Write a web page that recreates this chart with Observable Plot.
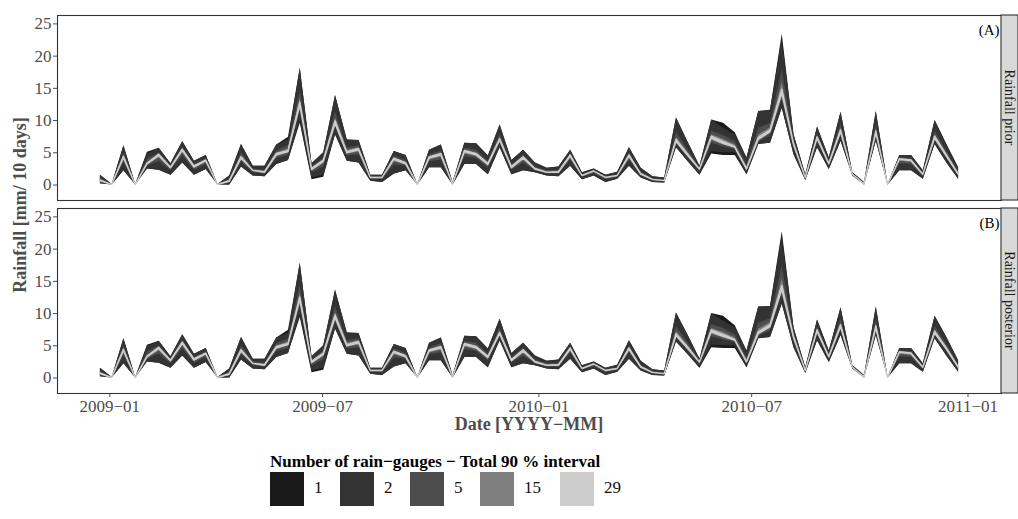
<!DOCTYPE html>
<html><head><meta charset="utf-8">
<script src="https://cdn.jsdelivr.net/npm/d3@7"></script>
<script src="https://cdn.jsdelivr.net/npm/@observablehq/plot@0.6"></script>
<style>
body{margin:0;background:#fff;font-family:"Liberation Serif","Times New Roman",serif;}
#wrap{position:relative;width:1018px;height:519px;overflow:hidden;}
#legtitle{position:absolute;left:270px;top:452px;font-weight:bold;font-size:17px;color:#000;white-space:nowrap;line-height:20px;}
.sw{position:absolute;width:34px;height:34px;top:472px;}
.lab{position:absolute;top:478px;font-size:17px;color:#111;line-height:20px;}
</style></head><body><div id="wrap"></div>
<script>
const dates = ["2008-12-24","2009-01-03","2009-01-13","2009-01-23","2009-02-02","2009-02-12","2009-02-22","2009-03-04","2009-03-14","2009-03-24",
"2009-04-03","2009-04-13","2009-04-23","2009-05-03","2009-05-13","2009-05-23","2009-06-02","2009-06-12","2009-06-22","2009-07-02",
"2009-07-12","2009-07-22","2009-08-01","2009-08-11","2009-08-21","2009-08-31","2009-09-10","2009-09-20","2009-09-30","2009-10-10",
"2009-10-20","2009-10-30","2009-11-09","2009-11-19","2009-11-29","2009-12-09","2009-12-19","2009-12-29","2010-01-08","2010-01-18",
"2010-01-28","2010-02-07","2010-02-17","2010-02-27","2010-03-09","2010-03-19","2010-03-29","2010-04-08","2010-04-18","2010-04-28",
"2010-05-08","2010-05-18","2010-05-28","2010-06-07","2010-06-17","2010-06-27","2010-07-07","2010-07-17","2010-07-27","2010-08-06",
"2010-08-16","2010-08-26","2010-09-05","2010-09-15","2010-09-25","2010-10-05","2010-10-15","2010-10-25","2010-11-04","2010-11-14",
"2010-11-24","2010-12-04","2010-12-14","2010-12-24"];
const gauges = ["1","2","5","15","29"];
const grays = ["#1a1a1a","#333333","#4d4d4d","#7f7f7f","#cccccc"];
const panels = ["Rainfall prior","Rainfall posterior"];
const panelTags = ["(A)","(B)"];
const xTicks = ["2009-01-01","2009-07-01","2010-01-01","2010-07-01","2011-01-01"];
const yTicks = [0,5,10,15,20,25];

// Panel A (prior): 90% interval bounds per number of rain-gauges
const A_hi1 = [1.5,0.1,6.1,0.1,5.1,5.7,3.3,6.7,3.7,4.6, 0.1,1.4,6.3,2.9,2.9,6.2,7.4,18.1,3.3,5.0, 13.9,7.0,6.9,1.5,1.5,5.2,4.6,0.1,5.4,6.2, 0.4,6.5,6.4,4.5,9.3,3.8,5.4,3.4,2.6,2.8, 5.4,1.9,2.5,1.5,2.0,5.8,2.6,1.3,1.1,10.4, 6.6,2.9,10.1,9.6,8.1,4.2,11.4,11.6,23.4,7.8, 1.6,9.0,4.2,11.3,1.9,0.4,11.4,0.1,4.6,4.6, 2.2,10.0,6.3,2.7];
const A_lo1 = [0.2,0,2.2,0,2.5,2.3,1.5,3.4,1.5,2.4, 0,0,2.8,1.4,1.3,3.2,3.8,9.6,0.8,1.2, 7.8,3.7,3.4,0.6,0.4,1.7,2.2,0,2.7,2.7, 0,3.2,3.2,1.6,5.8,1.6,2.2,1.9,1.4,1.3, 2.9,0.8,1.4,0.4,0.9,2.9,1.1,0.4,0.3,5.8, 3.6,1.5,4.8,4.6,4.6,1.6,6.3,6.5,11.9,4.7, 0.7,5.8,2.4,6.8,1.4,0,6.8,0,2.2,2.2, 0.9,6.3,3.4,0.9];
const A_hi2 = [1.5,0.1,6.1,0.1,4.8,5.7,3.3,6.7,3.7,4.6, 0.1,1.4,6.3,2.9,2.9,6.2,7.0,18.1,3.3,5.0, 13.9,7.0,6.9,1.5,1.5,5.2,4.6,0.1,5.4,6.2, 0.4,6.5,6.4,4.5,9.3,3.8,5.4,3.4,2.6,2.8, 5.4,1.9,2.5,1.5,2.0,5.8,2.6,1.3,1.1,10.4, 6.6,2.9,10.1,8.8,7.8,4.2,11.4,11.6,22.6,7.8, 1.6,9.0,4.2,11.3,1.9,0.4,11.4,0.1,4.6,4.6, 2.2,10.0,6.3,2.7];
const A_lo2 = [0.2,0,2.2,0,2.5,2.3,1.5,3.4,1.5,2.4, 0,0,2.8,1.4,1.3,3.2,3.8,9.9,1.1,1.5, 7.8,3.7,3.4,0.6,0.4,1.7,2.2,0,2.7,2.7, 0,3.2,3.2,1.6,5.8,1.6,2.2,1.9,1.4,1.3, 2.9,0.8,1.4,0.4,0.9,2.9,1.1,0.4,0.3,5.8, 3.6,1.5,5.2,5.0,5.0,1.6,6.3,6.5,11.9,4.7, 0.7,5.8,2.4,6.8,1.4,0,6.8,0,2.2,2.2, 0.9,6.3,3.4,0.9];
const A_hi5 = [1.0,0.1,5.0,0.1,4.0,5.0,2.9,5.9,3.2,4.1, 0.1,0.9,5.0,2.5,2.3,5.3,6.1,14.7,2.8,4.2, 11.3,5.8,6.1,1.3,1.3,4.5,3.8,0.1,4.7,5.3, 0.2,5.7,5.4,3.7,7.9,3.1,4.7,2.8,2.2,2.3, 4.9,1.6,2.3,1.3,1.6,5.0,2.0,1.0,0.8,8.2, 5.4,2.6,8.4,7.7,6.7,3.1,8.8,9.6,17.9,6.9, 1.3,8.0,3.6,9.5,1.7,0.2,9.4,0.1,4.2,4.1, 1.8,8.4,5.2,2.0];
const A_lo5 = [0.4,0,3.5,0,2.9,3.7,2.2,4.6,2.3,3.2, 0,0.3,3.6,1.9,1.7,4.1,4.6,11.5,1.9,2.8, 8.9,4.5,4.7,0.9,0.8,3.1,2.9,0,3.6,3.9, 0.1,4.4,4.1,2.6,6.5,2.3,3.4,2.2,1.7,1.7, 3.9,1.2,1.8,0.8,1.2,3.9,1.4,0.6,0.5,6.4, 4.2,2.0,6.5,5.9,5.5,2.1,6.7,7.6,13.3,5.7, 1.0,6.7,2.9,7.7,1.5,0.1,7.6,0,3.3,3.2, 1.3,6.9,4.1,1.3];
const A_hi15 = [0.8,0,4.6,0,3.5,4.8,2.8,5.6,3.0,3.9, 0,0.7,4.6,2.3,2.1,5.0,5.6,13.5,2.6,3.9, 10.4,5.4,5.8,1.2,1.2,4.2,3.5,0,4.4,5.0, 0.2,5.4,5.0,3.4,7.4,2.9,4.4,2.6,2.0,2.1, 4.7,1.5,2.2,1.2,1.5,4.7,1.8,0.9,0.7,7.4, 5.0,2.5,7.8,7.1,6.2,2.7,7.8,8.9,15.9,6.6, 1.2,7.6,3.4,8.8,1.7,0.2,8.7,0,4.1,3.9, 1.7,7.8,4.8,1.8];
const A_lo15 = [0.5,0,3.9,0,3.1,4.2,2.5,5.0,2.6,3.5, 0,0.4,3.9,2.1,1.8,4.4,5.0,12.0,2.2,3.3, 9.3,4.8,5.1,1.0,1.0,3.6,3.1,0,3.9,4.3, 0.1,4.8,4.4,2.9,6.8,2.5,3.8,2.3,1.8,1.8, 4.2,1.3,2.0,1.0,1.3,4.2,1.5,0.7,0.5,6.6, 4.4,2.2,6.9,6.2,5.7,2.3,6.9,8.0,13.9,6.0, 1.0,7.0,3.1,8.0,1.6,0.1,7.9,0,3.7,3.5, 1.5,7.1,4.3,1.5];
const A_hi29 = [0.7,0,4.4,0,3.3,4.7,2.7,5.5,2.9,3.8, 0,0.6,4.3,2.2,2.0,4.8,5.3,12.8,2.5,3.8, 9.9,5.1,5.6,1.1,1.1,4.1,3.4,0,4.3,4.8, 0.1,5.3,4.8,3.3,7.1,2.8,4.3,2.5,1.9,2.0, 4.6,1.4,2.1,1.1,1.4,4.6,1.7,0.8,0.6,7.0, 4.7,2.4,7.5,6.7,5.9,2.5,7.3,8.5,14.8,6.4, 1.1,7.4,3.3,8.5,1.6,0.1,8.3,0,4.0,3.8, 1.6,7.5,4.6,1.7];
const A_lo29 = [0.6,0,4.2,0,3.2,4.5,2.6,5.3,2.7,3.7, 0,0.5,4.1,2.2,1.9,4.6,5.1,12.3,2.3,3.6, 9.5,4.9,5.4,1.1,1.1,3.9,3.2,0,4.1,4.6, 0.1,5.1,4.6,3.1,6.9,2.6,4.1,2.4,1.9,1.9, 4.4,1.4,2.1,1.1,1.4,4.4,1.6,0.8,0.6,6.7, 4.5,2.4,7.2,6.4,5.8,2.4,7.0,8.2,14.2,6.2, 1.1,7.2,3.2,8.2,1.6,0.1,8.0,0,3.9,3.7, 1.6,7.2,4.4,1.6];

// Panel B (posterior)
const B_hi1 = [1.5,0.1,6.1,0.1,5.1,5.7,3.3,6.7,3.7,4.6, 0.1,1.4,6.3,2.9,2.9,6.2,7.4,17.8,3.3,5.0, 13.6,7.0,6.9,1.5,1.5,5.2,4.6,0.1,5.4,6.2, 0.4,6.5,6.4,4.5,9.1,3.8,5.4,3.4,2.6,2.8, 5.4,1.9,2.5,1.5,2.0,5.8,2.6,1.3,1.1,10.1, 6.6,2.9,10.0,9.6,8.1,4.2,11.0,11.1,22.7,7.8, 1.6,9.0,4.2,10.9,1.9,0.4,11.0,0.1,4.6,4.6, 2.2,9.6,6.3,2.7];
const B_lo1 = [0.2,0,2.2,0,2.5,2.3,1.5,3.4,1.5,2.4, 0,0,2.8,1.4,1.3,3.2,3.8,9.4,0.8,1.2, 7.6,3.7,3.4,0.6,0.4,1.7,2.2,0,2.7,2.7, 0,3.2,3.2,1.6,5.8,1.6,2.2,1.9,1.4,1.3, 2.9,0.8,1.4,0.4,0.9,2.9,1.1,0.4,0.3,5.6, 3.6,1.5,4.7,4.6,4.6,1.6,6.1,6.3,11.5,4.7, 0.7,5.8,2.4,6.6,1.4,0,6.6,0,2.2,2.2, 0.9,6.1,3.4,0.9];
const B_hi2 = [1.5,0.1,6.1,0.1,4.8,5.7,3.3,6.7,3.7,4.6, 0.1,1.4,6.3,2.9,2.9,6.2,7.0,17.8,3.3,5.0, 13.6,7.0,6.9,1.5,1.5,5.2,4.6,0.1,5.4,6.2, 0.4,6.5,6.4,4.5,9.1,3.8,5.4,3.4,2.6,2.8, 5.4,1.9,2.5,1.5,2.0,5.8,2.6,1.3,1.1,10.1, 6.6,2.9,10.0,8.8,7.8,4.2,11.0,11.1,21.9,7.8, 1.6,9.0,4.2,10.9,1.9,0.4,11.0,0.1,4.6,4.6, 2.2,9.6,6.3,2.7];
const B_lo2 = [0.2,0,2.2,0,2.5,2.3,1.5,3.4,1.5,2.4, 0,0,2.8,1.4,1.3,3.2,3.8,9.7,1.1,1.5, 7.6,3.7,3.4,0.6,0.4,1.7,2.2,0,2.7,2.7, 0,3.2,3.2,1.6,5.8,1.6,2.2,1.9,1.4,1.3, 2.9,0.8,1.4,0.4,0.9,2.9,1.1,0.4,0.3,5.6, 3.6,1.5,5.1,5.0,5.0,1.6,6.1,6.3,11.5,4.7, 0.7,5.8,2.4,6.6,1.4,0,6.6,0,2.2,2.2, 0.9,6.1,3.4,0.9];
const B_hi5 = [1.0,0.1,5.0,0.1,4.0,5.0,2.9,5.9,3.2,4.1, 0.1,0.9,5.0,2.5,2.3,5.3,6.1,14.4,2.8,4.2, 11.1,5.8,6.1,1.3,1.3,4.5,3.8,0.1,4.7,5.3, 0.2,5.7,5.4,3.7,7.8,3.1,4.7,2.8,2.2,2.3, 4.9,1.6,2.3,1.3,1.6,5.0,2.0,1.0,0.8,8.0, 5.4,2.6,8.3,7.7,6.7,3.1,8.5,9.2,17.4,6.9, 1.3,8.0,3.6,9.2,1.7,0.2,9.1,0.1,4.2,4.1, 1.8,8.0,5.2,2.0];
const B_lo5 = [0.4,0,3.5,0,2.9,3.7,2.2,4.6,2.3,3.2, 0,0.3,3.6,1.9,1.7,4.1,4.6,11.2,1.9,2.8, 8.7,4.5,4.7,0.9,0.8,3.1,2.9,0,3.6,3.9, 0.1,4.4,4.1,2.6,6.5,2.3,3.4,2.2,1.7,1.7, 3.9,1.2,1.8,0.8,1.2,3.9,1.4,0.6,0.5,6.2, 4.2,2.0,6.4,5.9,5.5,2.1,6.5,7.3,12.9,5.7, 1.0,6.7,2.9,7.4,1.5,0.1,7.3,0,3.3,3.2, 1.3,6.6,4.1,1.3];
const B_hi15 = [0.8,0,4.6,0,3.5,4.8,2.8,5.6,3.0,3.9, 0,0.7,4.6,2.3,2.1,5.0,5.6,13.2,2.6,3.9, 10.2,5.4,5.8,1.2,1.2,4.2,3.5,0,4.4,5.0, 0.2,5.4,5.0,3.4,7.3,2.9,4.4,2.6,2.0,2.1, 4.7,1.5,2.2,1.2,1.5,4.7,1.8,0.9,0.7,7.2, 5.0,2.5,7.7,7.1,6.2,2.7,7.6,8.6,15.4,6.6, 1.2,7.6,3.4,8.5,1.7,0.2,8.4,0,4.1,3.9, 1.7,7.5,4.8,1.8];
const B_lo15 = [0.5,0,3.9,0,3.1,4.2,2.5,5.0,2.6,3.5, 0,0.4,3.9,2.1,1.8,4.4,5.0,11.7,2.2,3.3, 9.1,4.8,5.1,1.0,1.0,3.6,3.1,0,3.9,4.3, 0.1,4.8,4.4,2.9,6.7,2.5,3.8,2.3,1.8,1.8, 4.2,1.3,2.0,1.0,1.3,4.2,1.5,0.7,0.5,6.4, 4.4,2.2,6.8,6.2,5.7,2.3,6.7,7.7,13.4,6.0, 1.0,7.0,3.1,7.7,1.6,0.1,7.6,0,3.7,3.5, 1.5,6.8,4.3,1.5];
const B_hi29 = [0.7,0,4.4,0,3.3,4.7,2.7,5.5,2.9,3.8, 0,0.6,4.3,2.2,2.0,4.8,5.3,12.5,2.5,3.8, 9.7,5.1,5.6,1.1,1.1,4.1,3.4,0,4.3,4.8, 0.1,5.3,4.8,3.3,7.0,2.8,4.3,2.5,1.9,2.0, 4.6,1.4,2.1,1.1,1.4,4.6,1.7,0.8,0.6,6.8, 4.7,2.4,7.4,6.7,5.9,2.5,7.1,8.2,14.3,6.4, 1.1,7.4,3.3,8.2,1.6,0.1,8.0,0,4.0,3.8, 1.6,7.2,4.6,1.7];
const B_lo29 = [0.6,0,4.2,0,3.2,4.5,2.6,5.3,2.7,3.7, 0,0.5,4.1,2.2,1.9,4.6,5.1,12.1,2.3,3.6, 9.3,4.9,5.4,1.1,1.1,3.9,3.2,0,4.1,4.6, 0.1,5.1,4.6,3.1,6.8,2.6,4.1,2.4,1.9,1.9, 4.4,1.4,2.1,1.1,1.4,4.4,1.6,0.8,0.6,6.5, 4.5,2.4,7.1,6.4,5.8,2.4,6.8,7.9,13.7,6.2, 1.1,7.2,3.2,7.9,1.6,0.1,7.7,0,3.9,3.7, 1.6,6.9,4.4,1.6];

const series = {
  "Rainfall prior": {"1":[A_lo1,A_hi1],"2":[A_lo2,A_hi2],"5":[A_lo5,A_hi5],"15":[A_lo15,A_hi15],"29":[A_lo29,A_hi29]},
  "Rainfall posterior": {"1":[B_lo1,B_hi1],"2":[B_lo2,B_hi2],"5":[B_lo5,B_hi5],"15":[B_lo15,B_hi15],"29":[B_lo29,B_hi29]}
};
const rows = [];
panels.forEach(p => gauges.forEach(g => {
  const [lo, hi] = series[p][g];
  dates.forEach((d, i) => rows.push({panel: p, gauge: g, date: new Date(d), lo: lo[i], hi: hi[i]}));
}));

const FONT = "Liberation Serif, Times New Roman, serif";
const chart = Plot.plot({
  width: 1018, height: 440,
  marginTop: 14, marginBottom: 47, marginLeft: 57, marginRight: 17,
  style: {fontFamily: FONT, background: "white", overflow: "visible"},
  x: {type: "utc", domain: [new Date("2008-11-17T12:00Z"), new Date("2011-01-29T12:00Z")]},
  y: {domain: [-2.4, 26.3]},
  fy: {domain: panels, paddingInner: 0.042, paddingOuter: 0, axis: null},
  color: {domain: gauges, range: grays},
  marks: [
    Plot.areaY(rows, {x: "date", y1: "lo", y2: "hi", fill: "gauge", z: "gauge", fy: "panel"}),
    Plot.areaY(rows.filter(d => d.gauge === "29"), {x: "date", y1: "lo", y2: "hi", fill: "gauge", stroke: "gauge", strokeWidth: 1.4, strokeLinejoin: "round", fy: "panel"}),
    Plot.frame({stroke: "#333", strokeWidth: 1.1}),
    Plot.axisY({ticks: yTicks, tickSize: 4, tickPadding: 2, color: "#4d4d4d", fontSize: 17, label: null}),
    Plot.axisX({ticks: xTicks.map(d => new Date(d)), tickFormat: d3.utcFormat("%Y\u2212%m"), tickSize: 4, tickPadding: 2, color: "#4d4d4d", fontSize: 17, label: null}),
    Plot.text(panels, {fy: d => d, text: (d, i) => panelTags[i], frameAnchor: "top-right", dx: -2, dy: 9, fontSize: 15, fill: "#000"})
  ]
});

const svg = d3.select(chart);
const fy = chart.scale("fy");
panels.forEach(p => {
  const top = fy.apply(p);
  const h = fy.bandwidth;
  svg.append("rect").attr("x", 1001).attr("y", top).attr("width", 17).attr("height", h)
    .attr("fill", "#d9d9d9").attr("stroke", "#333").attr("stroke-width", 1.1);
  svg.append("text").attr("transform", `translate(1009.5,${top + h / 2}) rotate(90)`)
    .attr("text-anchor", "middle").attr("dominant-baseline", "central")
    .attr("font-size", 14).attr("fill", "#1a1a1a").attr("font-family", FONT).text(p);
});
svg.append("text").attr("transform", "translate(20,205) rotate(-90)")
  .attr("text-anchor", "middle").attr("dominant-baseline", "central")
  .attr("font-size", 18).attr("font-weight", "bold").attr("fill", "#4d4d4d").attr("font-family", FONT)
  .text("Rainfall [mm/ 10 days]");
svg.append("text").attr("x", 529).attr("y", 424)
  .attr("text-anchor", "middle").attr("dominant-baseline", "central")
  .attr("font-size", 18).attr("font-weight", "bold").attr("fill", "#4d4d4d").attr("font-family", FONT)
  .text("Date [YYYY\u2212MM]");

const wrap = document.getElementById("wrap");
chart.style.position = "absolute"; chart.style.left = "0"; chart.style.top = "0";
wrap.appendChild(chart);

const color = chart.scale("color");
const lt = document.createElement("div");
lt.id = "legtitle";
lt.textContent = "Number of rain\u2212gauges \u2212 Total 90 % interval";
wrap.appendChild(lt);
const swX = [270, 340, 410, 480, 560];
gauges.forEach((g, i) => {
  const s = document.createElement("div");
  s.className = "sw"; s.style.left = swX[i] + "px"; s.style.background = color.apply(g);
  wrap.appendChild(s);
  const l = document.createElement("div");
  l.className = "lab"; l.style.left = (swX[i] + 44) + "px"; l.textContent = g;
  wrap.appendChild(l);
});
</script></body></html>
